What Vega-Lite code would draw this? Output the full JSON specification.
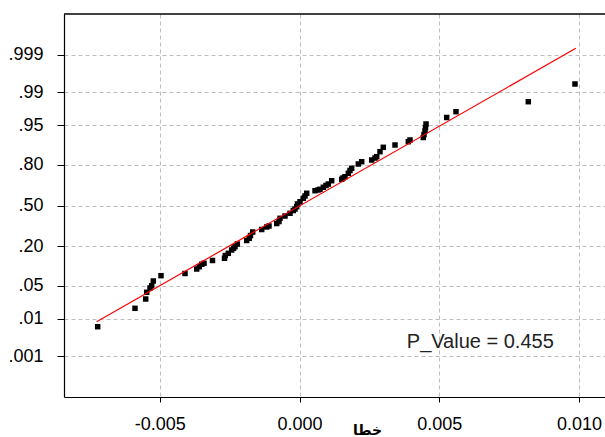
{
  "$schema": "https://vega.github.io/schema/vega-lite/v6.json",
  "width": 541,
  "height": 383,
  "autosize": {"type": "none"},
  "padding": {"left": 64, "top": 14, "right": 0, "bottom": 40},
  "background": "white",
  "config": {
    "view": {"stroke": null},
    "axis": {
      "labelFont": "Liberation Sans",
      "labelFontSize": 18,
      "labelColor": "black",
      "domainColor": "black",
      "domainWidth": 1.2,
      "tickColor": "black",
      "gridColor": "#bdbdbd",
      "gridDash": [4, 3],
      "gridWidth": 1,
      "labelOverlap": false,
      "labelFlush": false
    }
  },
  "datasets": {
    "points": [
      {"x": -0.007223, "z": -2.489},
      {"x": -0.005888, "z": -2.111},
      {"x": -0.005505, "z": -1.920},
      {"x": -0.005469, "z": -1.782},
      {"x": -0.005351, "z": -1.694},
      {"x": -0.005290, "z": -1.647},
      {"x": -0.005233, "z": -1.550},
      {"x": -0.004957, "z": -1.441},
      {"x": -0.004098, "z": -1.396},
      {"x": -0.003679, "z": -1.304},
      {"x": -0.003586, "z": -1.257},
      {"x": -0.003500, "z": -1.207},
      {"x": -0.003418, "z": -1.187},
      {"x": -0.003114, "z": -1.129},
      {"x": -0.002684, "z": -1.084},
      {"x": -0.002656, "z": -1.027},
      {"x": -0.002548, "z": -0.982},
      {"x": -0.002427, "z": -0.914},
      {"x": -0.002362, "z": -0.879},
      {"x": -0.002309, "z": -0.846},
      {"x": -0.002226, "z": -0.791},
      {"x": -0.001890, "z": -0.719},
      {"x": -0.001797, "z": -0.674},
      {"x": -0.001754, "z": -0.616},
      {"x": -0.001675, "z": -0.544},
      {"x": -0.001353, "z": -0.493},
      {"x": -0.001174, "z": -0.441},
      {"x": -0.001092, "z": -0.421},
      {"x": -0.000816, "z": -0.370},
      {"x": -0.000734, "z": -0.329},
      {"x": -0.000698, "z": -0.263},
      {"x": -0.000519, "z": -0.216},
      {"x": -0.000340, "z": -0.160},
      {"x": -0.000222, "z": -0.103},
      {"x": -0.000161, "z": -0.072},
      {"x": -0.000100, "z": -0.025},
      {"x": -0.000072, "z": 0.031},
      {"x": 0.000018, "z": 0.078},
      {"x": 0.000136, "z": 0.148},
      {"x": 0.000197, "z": 0.195},
      {"x": 0.000258, "z": 0.251},
      {"x": 0.000555, "z": 0.304},
      {"x": 0.000662, "z": 0.318},
      {"x": 0.000734, "z": 0.333},
      {"x": 0.000852, "z": 0.374},
      {"x": 0.000948, "z": 0.411},
      {"x": 0.001031, "z": 0.441},
      {"x": 0.001152, "z": 0.509},
      {"x": 0.001510, "z": 0.538},
      {"x": 0.001557, "z": 0.565},
      {"x": 0.001628, "z": 0.591},
      {"x": 0.001747, "z": 0.661},
      {"x": 0.001807, "z": 0.719},
      {"x": 0.001868, "z": 0.764},
      {"x": 0.002105, "z": 0.852},
      {"x": 0.002226, "z": 0.899},
      {"x": 0.002584, "z": 0.934},
      {"x": 0.002702, "z": 0.975},
      {"x": 0.002763, "z": 1.002},
      {"x": 0.002881, "z": 1.105},
      {"x": 0.002999, "z": 1.195},
      {"x": 0.003418, "z": 1.242},
      {"x": 0.003894, "z": 1.310},
      {"x": 0.003955, "z": 1.345},
      {"x": 0.004431, "z": 1.396},
      {"x": 0.004456, "z": 1.458},
      {"x": 0.004492, "z": 1.530},
      {"x": 0.004510, "z": 1.602},
      {"x": 0.004528, "z": 1.674},
      {"x": 0.005268, "z": 1.807},
      {"x": 0.005601, "z": 1.926},
      {"x": 0.008189, "z": 2.131},
      {"x": 0.009860, "z": 2.495}
    ],
    "fit": [
      {"x": -0.00726, "z": -2.386},
      {"x": 0.00989, "z": 3.228}
    ],
    "note": [
      {"x": 0.00384, "z": -2.93, "label": "P_Value = 0.455"}
    ],
    "frame": [
      {"z": 3.932}
    ]
  },
  "layer": [
    {
      "data": {"name": "points"},
      "mark": {"type": "point", "shape": "square", "filled": true, "size": 30, "color": "black", "opacity": 1},
      "encoding": {
        "x": {
          "field": "x", "type": "quantitative",
          "scale": {"domain": [-0.008429, 0.010934], "nice": false, "zero": false},
          "axis": {
            "values": [-0.005, 0, 0.005, 0.01],
            "labelExpr": "datum.value < -0.001 ? '-0.005' : datum.value < 0.001 ? '0.000' : datum.value < 0.006 ? '0.005' : '0.010'",
            "tickSize": 5,
            "labelPadding": 13,
            "title": "خطا",
            "titleFont": "DejaVu Sans",
            "titleFontSize": 14,
            "titleFontWeight": "bold",
            "titleColor": "black",
            "titleX": 303,
            "titleY": 37,
            "titleBaseline": "alphabetic",
            "titleAlign": "center"
          }
        },
        "y": {
          "field": "z", "type": "quantitative",
          "scale": {"domain": [-3.932, 3.932], "nice": false, "zero": false},
          "axis": {
            "values": [-3.0902, -2.3263, -1.6449, -0.8416, 0, 0.8416, 1.6449, 2.3263, 3.0902],
            "labelExpr": "datum.value < -3 ? '.001' : datum.value < -2 ? '.01' : datum.value < -1 ? '.05' : datum.value < -0.5 ? '.20' : datum.value < 0.5 ? '.50' : datum.value < 1 ? '.80' : datum.value < 2 ? '.95' : datum.value < 3 ? '.99' : '.999'",
            "tickSize": 7,
            "labelPadding": 14,
            "title": null
          }
        }
      }
    },
    {
      "data": {"name": "fit"},
      "mark": {"type": "line", "color": "#ff0000", "strokeWidth": 1.2},
      "encoding": {
        "x": {"field": "x", "type": "quantitative", "scale": {"domain": [-0.008429, 0.010934], "nice": false, "zero": false}},
        "y": {"field": "z", "type": "quantitative", "scale": {"domain": [-3.932, 3.932], "nice": false, "zero": false}}
      }
    },
    {
      "data": {"name": "note"},
      "mark": {"type": "text", "align": "left", "baseline": "alphabetic", "font": "Liberation Sans", "fontSize": 20, "color": "#222222"},
      "encoding": {
        "x": {"field": "x", "type": "quantitative", "scale": {"domain": [-0.008429, 0.010934], "nice": false, "zero": false}},
        "y": {"field": "z", "type": "quantitative", "scale": {"domain": [-3.932, 3.932], "nice": false, "zero": false}},
        "text": {"field": "label"}
      }
    },
    {
      "data": {"name": "frame"},
      "mark": {"type": "rule", "color": "black", "strokeWidth": 1.5},
      "encoding": {
        "y": {"field": "z", "type": "quantitative", "scale": {"domain": [-3.932, 3.932], "nice": false, "zero": false}}
      }
    }
  ]
}
